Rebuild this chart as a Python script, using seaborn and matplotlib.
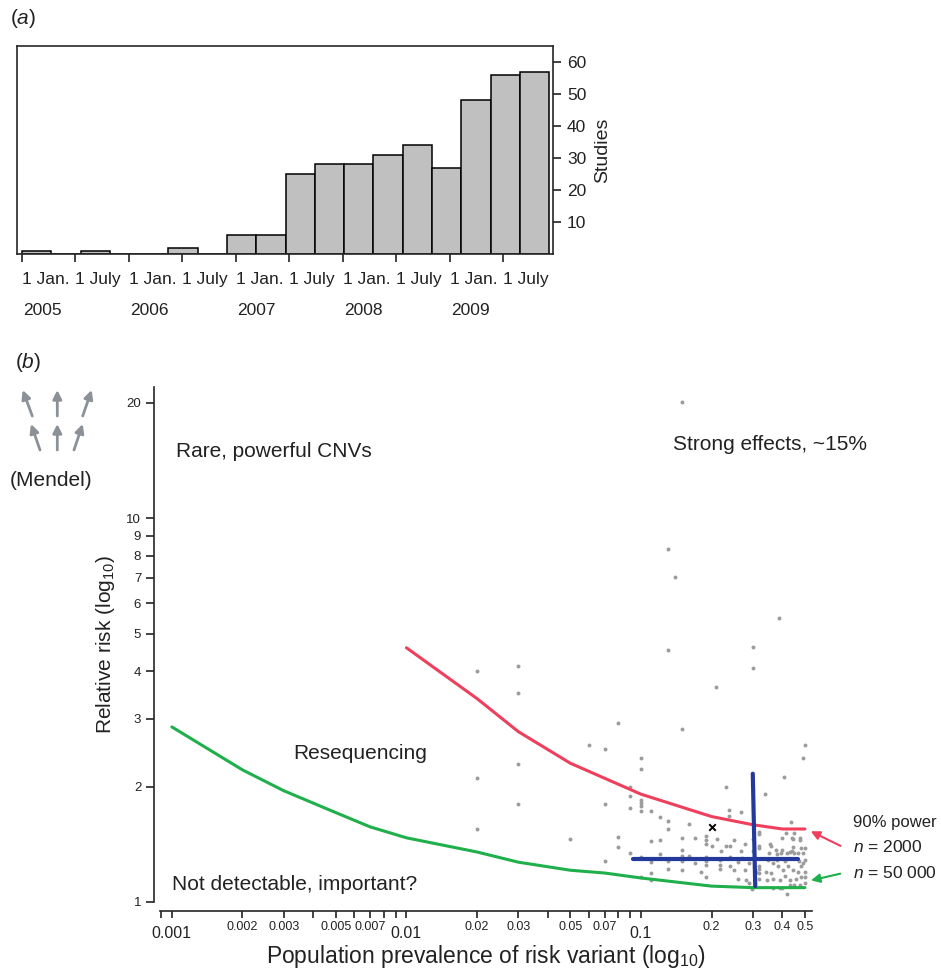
import pandas as pd
import seaborn as sns
import matplotlib.pyplot as plt
from matplotlib import transforms
from matplotlib.ticker import FixedLocator, FixedFormatter, NullLocator

# ---- panel (a): studies per 100-day period, day 0 = 1 Jan 2005
bin_start_days = [0, 100, 200, 300, 400, 500, 600, 700, 800, 900,
                  1000, 1100, 1200, 1300, 1400, 1500, 1600, 1700]
studies = [1, 0, 1, 0, 0, 2, 0, 6, 6, 25, 28, 28, 31, 34, 27, 48, 56, 57]
date_tick_days = [0, 181, 365, 546, 730, 911, 1095, 1276, 1461, 1642]
date_tick_labels = ["1 Jan.", "1 July"] * 5
year_tick_days = [0, 365, 730, 1095, 1461]
year_labels = ["2005", "2006", "2007", "2008", "2009"]
studies_ticks = [10, 20, 30, 40, 50, 60]

# ---- panel (b): prevalence vs relative risk
pt_prev = [0.149, 0.130, 0.140, 0.387, 0.130, 0.300, 0.300, 0.209, 0.149, 0.500, 0.490, 0.407,
           0.020, 0.030, 0.030, 0.030, 0.020, 0.030, 0.020,
           0.060, 0.070, 0.080, 0.070, 0.050, 0.080, 0.080, 0.090, 0.070,
           0.090, 0.090, 0.090, 0.100, 0.100, 0.100, 0.100, 0.230, 0.337,
           0.100, 0.100, 0.110, 0.120, 0.130, 0.130, 0.160,
           0.237, 0.237, 0.268, 0.438, 0.320, 0.320, 0.400, 0.440, 0.475,
           0.110, 0.120, 0.150, 0.170, 0.190, 0.190, 0.190, 0.200, 0.210, 0.220, 0.230, 0.250, 0.277, 0.268, 0.240,
           0.320, 0.320, 0.360, 0.400, 0.420, 0.440, 0.350, 0.380,
           0.150, 0.150, 0.160, 0.100, 0.110, 0.130, 0.130, 0.150, 0.150, 0.180,
           0.190, 0.190, 0.190, 0.218, 0.218, 0.218, 0.240,
           0.250, 0.260, 0.277, 0.280, 0.290,
           0.320, 0.320, 0.320, 0.320, 0.190, 0.110, 0.110, 0.100, 0.296, 0.420,
           0.348, 0.365, 0.384, 0.403, 0.424, 0.445, 0.467, 0.482, 0.490, 0.500, 0.500, 0.460, 0.430, 0.390, 0.365, 0.343,
           0.450, 0.467, 0.490, 0.500, 0.430, 0.450, 0.475, 0.365, 0.390, 0.400,
           0.355, 0.377, 0.397, 0.430, 0.445, 0.475, 0.480, 0.445, 0.417, 0.450,
           0.300, 0.300, 0.310, 0.300, 0.290, 0.270, 0.260, 0.240, 0.170, 0.120,
           0.340, 0.360, 0.410, 0.470, 0.500, 0.500, 0.480, 0.410, 0.380]
pt_rr = [20.1, 8.3, 7.05, 5.5, 4.53, 4.62, 4.08, 3.64, 2.82, 2.56, 2.37, 2.12,
         4.0, 4.12, 3.50, 2.29, 2.11, 1.80, 1.55,
         2.57, 2.51, 2.93, 1.80, 1.46, 1.48, 1.39, 1.34, 1.28,
         2.00, 1.89, 1.76, 2.38, 2.22, 1.81, 1.73, 2.00, 1.91,
         1.84, 1.78, 1.73, 1.67, 1.63, 1.55, 1.60,
         1.74, 1.68, 1.72, 1.62, 1.52, 1.50, 1.47, 1.47, 1.47,
         1.44, 1.45, 1.47, 1.47, 1.49, 1.45, 1.42, 1.40, 1.46, 1.36, 1.40, 1.45, 1.42, 1.36, 1.40,
         1.40, 1.38, 1.40, 1.37, 1.34, 1.36, 1.34, 1.33,
         1.37, 1.32, 1.32, 1.31, 1.27, 1.28, 1.22, 1.28, 1.21, 1.20,
         1.31, 1.28, 1.25, 1.29, 1.25, 1.22, 1.24,
         1.21, 1.15, 1.21, 1.14, 1.12,
         1.24, 1.22, 1.19, 1.15, 1.16, 1.19, 1.14, 1.16, 1.08, 1.05,
         1.29, 1.26, 1.24, 1.21, 1.24, 1.21, 1.20, 1.24, 1.26, 1.20, 1.16, 1.15, 1.14, 1.14, 1.15, 1.14,
         1.34, 1.34, 1.34, 1.38, 1.11, 1.11, 1.11, 1.09, 1.09, 1.09,
         1.42, 1.37, 1.34, 1.35, 1.39, 1.45, 1.38, 1.46, 1.51, 1.51,
         1.36, 1.30, 1.20, 1.46, 1.26, 1.30, 1.27, 1.31, 1.26, 1.33,
         1.20, 1.19, 1.17, 1.28, 1.29, 1.12, 1.16, 1.28, 1.29]

red_prev = [0.01, 0.02, 0.03, 0.05, 0.1, 0.2, 0.3, 0.4, 0.5]
red_rr = [4.6, 3.39, 2.78, 2.30, 1.91, 1.67, 1.59, 1.55, 1.55]
green_prev = [0.001, 0.002, 0.003, 0.005, 0.007, 0.01, 0.02, 0.03, 0.05, 0.07, 0.1, 0.2, 0.3, 0.5]
green_rr = [2.86, 2.21, 1.95, 1.71, 1.57, 1.47, 1.35, 1.27, 1.21, 1.19, 1.155, 1.10, 1.09, 1.09]
blue_h_prev = [0.0925, 0.468]
blue_h_rr = [1.294, 1.294]
blue_v_prev = [0.2997, 0.307]
blue_v_rr = [2.16, 1.10]
cross_prev = [0.2]
cross_rr = [1.57]

y_ticks = [1, 2, 3, 4, 5, 6, 7, 8, 9, 10, 20]
x_major = [0.001, 0.01, 0.1]
x_major_labels = ["0.001", "0.01", "0.1"]
x_minor = [0.0009, 0.002, 0.003, 0.004, 0.005, 0.006, 0.007, 0.008, 0.009,
           0.02, 0.03, 0.04, 0.05, 0.06, 0.07, 0.08, 0.09, 0.2, 0.3, 0.4, 0.5]
x_minor_labels = ["", "0.002", "0.003", "", "0.005", "", "0.007", "", "",
                  "0.02", "0.03", "", "0.05", "", "0.07", "", "", "0.2", "0.3", "0.4", "0.5"]

sns.set_style("ticks")
plt.rcParams["font.family"] = ["Liberation Sans", "DejaVu Sans"]
plt.rcParams["mathtext.fontset"] = "custom"
plt.rcParams["mathtext.rm"] = "Liberation Sans"
plt.rcParams["mathtext.it"] = "Liberation Sans:italic"
plt.rcParams["text.color"] = "#222222"
plt.rcParams["axes.labelcolor"] = "#222222"
plt.rcParams["xtick.color"] = "#222222"
plt.rcParams["ytick.color"] = "#222222"

W, H = 941, 968
fig = plt.figure(figsize=(W / 100, H / 100), dpi=100)

# ---------------- panel (a)
ax_a = fig.add_axes([17 / W, 1 - 254 / H, 536 / W, 208 / H])
df_a = pd.DataFrame({"day": [d + 50 for d in bin_start_days], "studies": studies})
sns.histplot(data=df_a, x="day", weights="studies", binwidth=100, binrange=(0, 1800),
             color="#c0c0c0", edgecolor="black", linewidth=1.1, alpha=1, ax=ax_a)
ax_a.set_xlim(-17, 1813)
ax_a.set_ylim(0, 65)
ax_a.yaxis.tick_right()
ax_a.yaxis.set_label_position("right")
ax_a.set_yticks(studies_ticks)
ax_a.set_ylabel("Studies", fontsize=14, labelpad=6)
ax_a.set_xlabel("")
ax_a.set_xticks(date_tick_days)
ax_a.set_xticklabels(date_tick_labels, ha="left")
shift = transforms.ScaledTranslation(2 / 72, 0, fig.dpi_scale_trans)
for lab in ax_a.get_xticklabels():
    lab.set_transform(lab.get_transform() + shift)
ax_a.tick_params(axis="x", length=6, width=1.2, pad=7, labelsize=12.5)
ax_a.tick_params(axis="y", length=6, width=1.2, pad=4, labelsize=12.5)
for sp in ax_a.spines.values():
    sp.set_linewidth(1.2)
yr_trans = transforms.blended_transform_factory(ax_a.transData, ax_a.transAxes)
for d, yr in zip(year_tick_days, year_labels):
    ax_a.text(d + 4, -0.27, yr, transform=yr_trans, ha="left", va="center", fontsize=12.5)
fig.text(10 / W, 1 - 18 / H, r"($\mathit{a}$)", fontsize=15, ha="left", va="center")

# ---------------- panel (b)
ax_b = fig.add_axes([160 / W, 1 - 902 / H, 652 / W, (902 - 387) / H])
sns.scatterplot(x=pt_prev, y=pt_rr, color="#9c9c9c", s=8, linewidth=0, ax=ax_b, zorder=2)
sns.lineplot(x=red_prev, y=red_rr, color="#ef3f5c", linewidth=2.2, ax=ax_b, zorder=3)
sns.lineplot(x=green_prev, y=green_rr, color="#1faf4b", linewidth=2.2, ax=ax_b, zorder=3)
sns.lineplot(x=blue_h_prev, y=blue_h_rr, color="#24399c", linewidth=3, ax=ax_b, zorder=4)
sns.lineplot(x=blue_v_prev, y=blue_v_rr, color="#24399c", linewidth=3, ax=ax_b, zorder=4, sort=False)
sns.scatterplot(x=cross_prev, y=cross_rr, marker="x", color="black", s=22, linewidth=1.4, ax=ax_b, zorder=5)

ax_b.set_xscale("log")
ax_b.set_yscale("log")
ax_b.set_xlim(0.00089, 0.536)
ax_b.set_ylim(1, 22)
ax_b.yaxis.set_major_locator(FixedLocator(y_ticks))
ax_b.yaxis.set_major_formatter(FixedFormatter([str(t) for t in y_ticks]))
ax_b.yaxis.set_minor_locator(NullLocator())
ax_b.xaxis.set_major_locator(FixedLocator(x_major))
ax_b.xaxis.set_major_formatter(FixedFormatter(x_major_labels))
ax_b.xaxis.set_minor_locator(FixedLocator(x_minor))
ax_b.xaxis.set_minor_formatter(FixedFormatter(x_minor_labels))
ax_b.tick_params(axis="y", length=6, width=1.2, labelsize=9.5, pad=3)
ax_b.tick_params(axis="x", which="major", length=5, width=1.2, labelsize=11.5, pad=6)
ax_b.tick_params(axis="x", which="minor", length=5, width=1.2, labelsize=9, pad=2)
sns.despine(ax=ax_b)
ax_b.spines["bottom"].set_position(("outward", 6.5))
ax_b.spines["left"].set_position(("outward", 4.5))
for sp in ("bottom", "left"):
    ax_b.spines[sp].set_linewidth(1.2)
ax_b.set_xlabel(r"Population prevalence of risk variant (log$_{10}$)", fontsize=16.5, labelpad=1)
ax_b.set_ylabel(r"Relative risk (log$_{10}$)", fontsize=15, labelpad=7)

ax_b.text(0.00104, 14.9, "Rare, powerful CNVs", fontsize=15, ha="left", va="center")
ax_b.text(0.1375, 15.6, "Strong effects, ~15%", fontsize=15, ha="left", va="center")
ax_b.text(0.00329, 2.44, "Resequencing", fontsize=15, ha="left", va="center")
ax_b.text(0.001, 1.11, "Not detectable, important?", fontsize=15, ha="left", va="center")

ax_b.text(0.80, 1.61, "90% power", fontsize=12, ha="left", va="center", clip_on=False)
ax_b.text(0.80, 1.39, r"$\mathit{n}$ = 2000", fontsize=12.5, ha="left", va="center", clip_on=False)
ax_b.text(0.80, 1.19, r"$\mathit{n}$ = 50 000", fontsize=12.5, ha="left", va="center", clip_on=False)
ax_b.annotate("", xy=(0.517, 1.54), xytext=(0.727, 1.39), annotation_clip=False,
              arrowprops=dict(arrowstyle="-|>", color="#ef3f5c", lw=1.5, mutation_scale=13))
ax_b.annotate("", xy=(0.517, 1.134), xytext=(0.727, 1.19), annotation_clip=False,
              arrowprops=dict(arrowstyle="-|>", color="#1faf4b", lw=1.5, mutation_scale=13))

fig.text(15 / W, 1 - 363 / H, r"($\mathit{b}$)", fontsize=15, ha="left", va="center")
fig.text(10 / W, 1 - 480 / H, "(Mendel)", fontsize=15, ha="left", va="center")
mendel_tails = [(40, 450), (57.3, 450), (74, 450), (32.3, 416), (57.3, 416), (82.7, 416)]
mendel_heads = [(31, 424), (57.3, 424), (82.7, 424), (22.7, 390), (57.3, 390), (91.7, 390)]
for (tx, ty), (hx, hy) in zip(mendel_tails, mendel_heads):
    ax_b.annotate("", xy=(hx / W, 1 - hy / H), xytext=(tx / W, 1 - ty / H),
                  xycoords="figure fraction", textcoords="figure fraction",
                  arrowprops=dict(arrowstyle="-|>", color="#8c9198", lw=2, mutation_scale=13,
                                  shrinkA=0, shrinkB=0))

fig.savefig("out.png", dpi=100)
